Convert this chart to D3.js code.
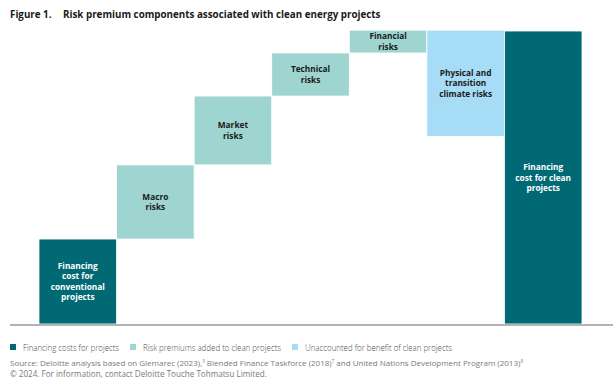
<!DOCTYPE html>
<html>
<head>
<meta charset="utf-8">
<script src="https://cdn.jsdelivr.net/npm/d3@7"></script>
<style>
  body { margin: 0; background: #fff; }
  svg { display: block; font-family: "Open Sans", sans-serif; }
</style>
</head>
<body>
<svg id="chart" width="616" height="387"></svg>
<script>
// data (arbitrary units, clean project cost = 100)
var steps = ["conventional", "macro", "market", "technical", "financial", "physical", "clean"];
var stepLabels = [
  ["Financing", "cost for", "conventional", "projects"],
  ["Macro", "risks"],
  ["Market", "risks"],
  ["Technical", "risks"],
  ["Financial", "risks"],
  ["Physical and", "transition", "climate risks"],
  ["Financing", "cost for clean", "projects"]
];
var stepValues = [29, 25.3, 23.5, 14.7, 7.8, -36.3, 100];
var stepKinds = ["cost", "risk", "risk", "risk", "risk", "benefit", "cost"];
var legendLabels = ["Financing costs for projects", "Risk premiums added to clean projects", "Unaccounted for benefit of clean projects"];

var colors = { cost: "#006974", risk: "#9fd5d0", benefit: "#a7dcf7" };
var kinds = ["cost", "risk", "benefit"];

var svg = d3.select("#chart");

// title
var title = svg.append("text").attr("x", 10).attr("y", 18)
    .style("font-size", "9.8px").style("font-weight", "bold").attr("fill", "#1a1a1a");
title.append("tspan").text("Figure 1.");
title.append("tspan").attr("x", 63).text("Risk premium components associated with clean energy projects");

// scales
var x = d3.scaleBand().domain(steps).range([39, 582]).padding(0);
var y = d3.scaleLinear().domain([0, 100]).range([324, 31]);

// compute waterfall start/end
var bars = [];
var running = 0;
steps.forEach(function(s, i){
    var v = stepValues[i];
    var y0, y1;
    if(i == steps.length - 1 || i == 0){ // full bars from zero
        y0 = 0; y1 = v; running = v;
    } else {
        y0 = running; y1 = running + v;
        if(stepKinds[i] != "benefit"){ running = y1; }
    }
    bars.push({ key: s, lo: Math.min(y0, y1), hi: Math.max(y0, y1), kind: stepKinds[i], label: stepLabels[i] });
});

var g = svg.append("g");

g.selectAll("rect.bar").data(bars).enter().append("rect")
    .attr("class", "bar")
    .attr("x", function(d){ return x(d.key); })
    .attr("width", x.bandwidth())
    .attr("y", function(d){ return y(d.hi); })
    .attr("height", function(d){ return y(d.lo) - y(d.hi); })
    .attr("fill", function(d){ return colors[d.kind]; })
    .attr("stroke", "#fff")
    .attr("stroke-width", 0.8);

// labels in bars
var lh = 10.5;
g.selectAll("text.lbl").data(bars).enter().append("text")
    .attr("class", "lbl")
    .attr("text-anchor", "middle")
    .style("font-size", "8.3px")
    .style("font-weight", "bold")
    .attr("fill", function(d){ return d.kind == "cost" ? "#fff" : "#1a1a1a"; })
    .each(function(d){
        var cx = x(d.key) + x.bandwidth()/2;
        var cy = (y(d.lo) + y(d.hi))/2;
        var n = d.label.length;
        var t = d3.select(this);
        d.label.forEach(function(line, i){
            t.append("tspan").attr("x", cx)
                .attr("y", cy + (i - (n-1)/2)*lh + 3)
                .text(line);
        });
    });

// baseline
svg.append("line")
    .attr("x1", 10).attr("x2", 613)
    .attr("y1", y(0) + 1).attr("y2", y(0) + 1)
    .style("stroke", "#b3b3b3")
    .style("stroke-width", "2px");

// legend
var legX = [10, 130, 292];
var legW = [96, 138, 147];
var leg = svg.append("g").attr("class", "legend");
kinds.forEach(function(k, i){
    leg.append("rect").attr("x", legX[i]).attr("y", 344).attr("width", 6).attr("height", 6)
        .attr("fill", colors[k]);
    leg.append("text").attr("x", legX[i] + 13).attr("y", 350.5)
        .style("font-size", "9px").style("font-weight", 300)
        .attr("fill", "#4d4d4d")
        .attr("textLength", legW[i]).attr("lengthAdjust", "spacingAndGlyphs")
        .text(legendLabels[i]);
});

// source
var src = svg.append("text").attr("x", 10).attr("y", 366)
    .style("font-size", "8px").attr("fill", "#7a7a7a");
src.append("tspan").text("Source: Deloitte analysis based on Glemarec (2023),");
src.append("tspan").attr("dy", -3).style("font-size", "4.5px").text("3");
src.append("tspan").attr("dy", 3).text(" Blended Finance Taskforce (2018)");
src.append("tspan").attr("dy", -3).style("font-size", "4.5px").text("7");
src.append("tspan").attr("dy", 3).text(" and United Nations Development Program (2013)");
src.append("tspan").attr("dy", -3).style("font-size", "4.5px").text("8");

svg.append("text").attr("x", 10).attr("y", 377)
    .style("font-size", "8.1px").attr("fill", "#7a7a7a")
    .text("\u00a9 2024. For information, contact Deloitte Touche Tohmatsu Limited.");
</script>
</body>
</html>
